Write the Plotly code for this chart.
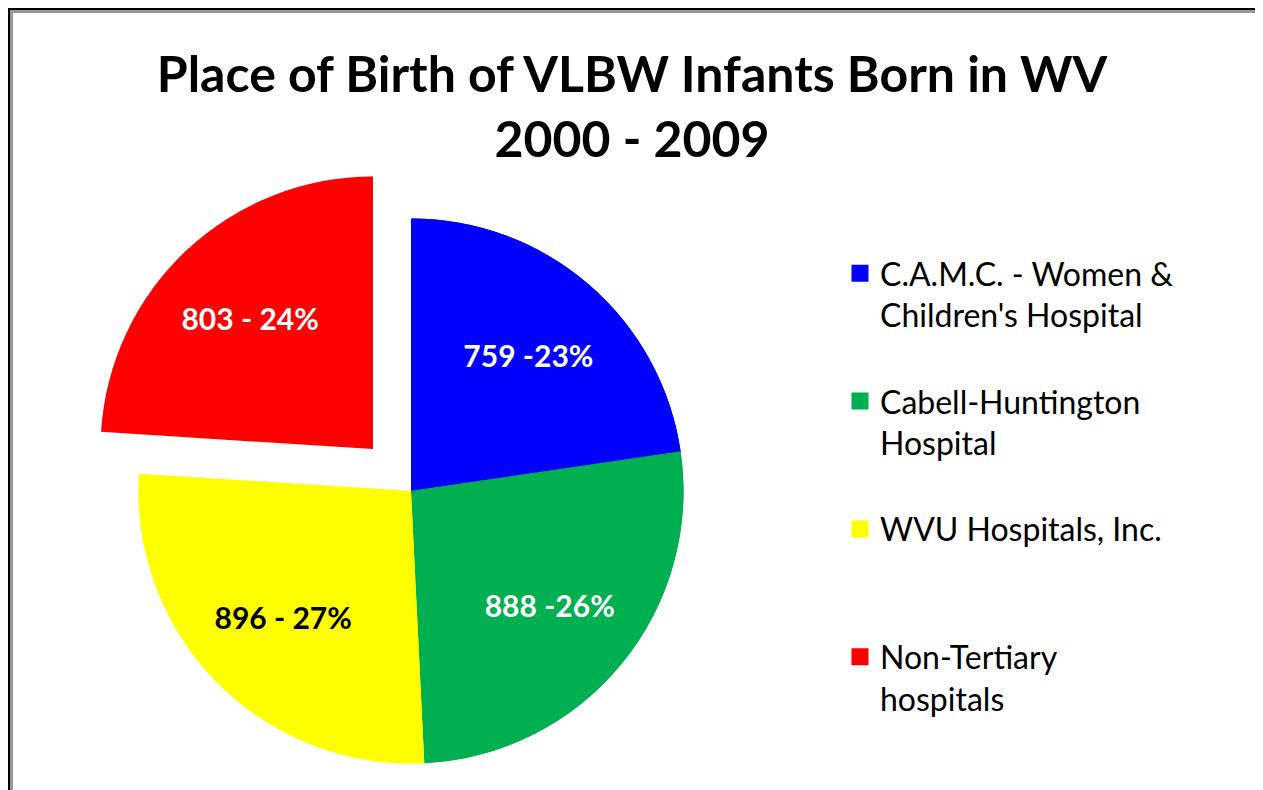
import plotly.graph_objects as go

# ---- data ----
categories = ["C.A.M.C. - Women &<br>Children's Hospital",
              "Cabell-Huntington<br>Hospital",
              "WVU Hospitals, Inc.",
              "Non-Tertiary<br>hospitals"]
counts = [759, 888, 896, 803]
slice_text = ["759 -23%", "888 -26%", "896 - 27%", "803 - 24%"]
colors = ["#0000FF", "#00B050", "#FFFF00", "#FF0000"]
text_colors = ["white", "white", "black", "white"]
title_lines = ["Place of Birth of VLBW Infants Born in WV", "2000 - 2009"]

# ---- layout constants (page pixels; the page body has an 8px margin) ----
OFF = 8
W, H = 1263 - OFF, 790 - OFF
R = 270                      # pie radius in px
EDGE = 5                     # slice outline (same colour as slice) -> bigger legend swatches
main_c = (411 - OFF, 491 - OFF)      # pie centre
pull_c = (373 - OFF, 449 - OFF)      # exploded slice centre
EXPLODED = 3
TEXT_HOLE = 0.33             # used only to push the labels outward


def dom(c, r=R):
    return dict(x=[(c[0] - r) / W, (c[0] + r) / W],
                y=[(H - c[1] - r) / H, (H - c[1] + r) / H])


# legend labels padded so every entry occupies the same height
max_lines = 3
legend_labels = [c + "<br> " * (max_lines - 1 - c.count("<br>")) for c in categories]

clear = "rgba(0,0,0,0)"
font = "Lato"
n = len(counts)

common = dict(labels=legend_labels, values=counts, sort=False, direction="clockwise",
              rotation=0, textposition="inside", insidetextorientation="horizontal",
              hoverinfo="skip", showlegend=False)
txtfont = dict(family=font, size=30, color=text_colors, weight="bold")

# base pie (all slices, gives the legend)
t1 = go.Pie({**common, "showlegend": True}, domain=dom(main_c), textinfo="none",
            marker=dict(colors=colors, line=dict(color=colors, width=EDGE)))
# blank out the exploded slice at its original place
t2 = go.Pie(**common, domain=dom(main_c, R + EDGE), textinfo="none",
            marker=dict(colors=[("white" if i == EXPLODED else clear) for i in range(n)],
                        line=dict(color="white",
                                  width=[(1 if i == EXPLODED else 0) for i in range(n)])))
# clean redraw of the slices that stay in place
t3 = go.Pie(**common, domain=dom(main_c, R + EDGE / 2), textinfo="none",
            marker=dict(colors=[(c if i != EXPLODED else clear) for i, c in enumerate(colors)],
                        line=dict(width=0)))
# exploded slice
t4 = go.Pie(**common, domain=dom(pull_c, R + EDGE / 2), textinfo="none",
            marker=dict(colors=[(c if i == EXPLODED else clear) for i, c in enumerate(colors)],
                        line=dict(width=0)))
# label layers
t5 = go.Pie(**common, domain=dom(main_c), hole=TEXT_HOLE, textinfo="text",
            text=[t if i != EXPLODED else "" for i, t in enumerate(slice_text)],
            insidetextfont=txtfont,
            marker=dict(colors=[clear] * n, line=dict(width=0)))
t6 = go.Pie(**common, domain=dom(pull_c), hole=TEXT_HOLE, textinfo="text",
            text=[t if i == EXPLODED else "" for i, t in enumerate(slice_text)],
            insidetextfont=txtfont,
            marker=dict(colors=[clear] * n, line=dict(width=0)))

fig = go.Figure([t1, t2, t3, t4, t5, t6])
fig.update_layout(
    width=W, height=H, margin=dict(l=0, r=0, t=0, b=0),
    paper_bgcolor="white", plot_bgcolor="white",
    title=dict(text="<br>".join(title_lines), x=(632 - OFF) / W, xanchor="center",
               y=0.8925, yanchor="top",
               font=dict(family=font, size=50, color="black", weight="bold")),
    legend=dict(x=832 / W, y=1 - 238 / H, xanchor="left", yanchor="top", valign="top",
                font=dict(family=font, size=32, color="black"), itemclick=False,
                bgcolor="rgba(0,0,0,0)"),
    shapes=[
        dict(type="rect", xref="paper", yref="paper", x0=0, x1=1253.5 / W, y0=-0.05, y1=1,
             line=dict(color="black", width=4)),
        dict(type="rect", xref="paper", yref="paper", x0=3.5 / W, x1=1250 / W, y0=-0.05,
             y1=1 - 3.5 / H, line=dict(color="#999999", width=3)),
    ],
)
fig.write_html("out.html")
